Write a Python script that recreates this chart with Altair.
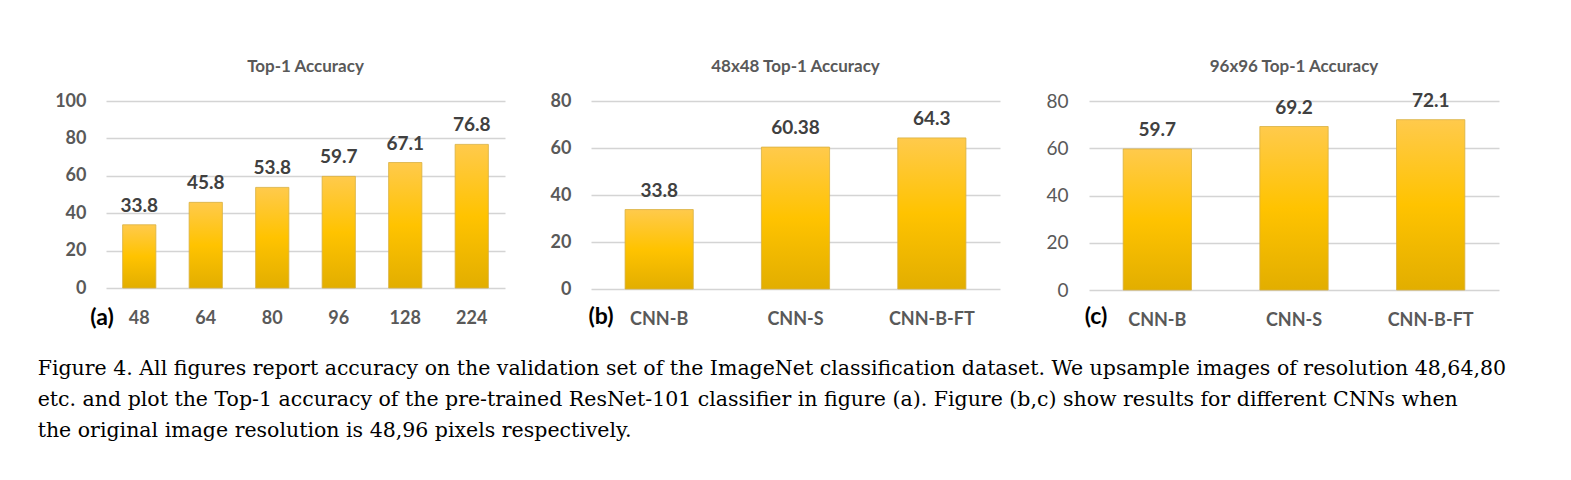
import altair as alt
import pandas as pd

# ---- data ----
res_labels = ["48", "64", "80", "96", "128", "224"]
res_acc = [33.8, 45.8, 53.8, 59.7, 67.1, 76.8]

cnn_labels = ["CNN-B", "CNN-S", "CNN-B-FT"]
acc_48 = [33.8, 60.38, 64.3]
acc_96 = [59.7, 69.2, 72.1]

value_text_a = ["33.8", "45.8", "53.8", "59.7", "67.1", "76.8"]
value_text_b = ["33.8", "60.38", "64.3"]
value_text_c = ["59.7", "69.2", "72.1"]

titles = ["Top-1 Accuracy", "48x48 Top-1 Accuracy", "96x96 Top-1 Accuracy"]
tags = ["(a)", "(b)", "(c)"]

caption = [
    "Figure 4. All figures report accuracy on the validation set of the ImageNet classification dataset. We upsample images of resolution 48,64,80",
    "etc. and plot the Top-1 accuracy of the pre-trained ResNet-101 classifier in figure (a). Figure (b,c) show results for different CNNs when",
    "the original image resolution is 48,96 pixels respectively.",
]

FONT = "Lato"
GRAY = "#595959"

bar_fill = alt.Gradient(
    gradient="linear",
    x1=0, y1=0, x2=0, y2=1,
    stops=[
        alt.GradientStop(color="#FFCA4C", offset=0),
        alt.GradientStop(color="#FFC300", offset=0.5),
        alt.GradientStop(color="#E2AE00", offset=1),
    ],
)


def panel(cats, vals, texts, title, tag, ymax, w, h, tick_bold, lab_pad, tag_dx, tag_dy, title_off):
    df = pd.DataFrame({"cat": cats, "val": vals, "txt": texts})
    x = alt.X(
        "cat:N", sort=cats, title=None,
        scale=alt.Scale(paddingInner=0.5, paddingOuter=0.25),
        axis=alt.Axis(labelAngle=0, ticks=False, domain=False, labelPadding=21,
                      labelFont=FONT, labelFontSize=18, labelFontWeight="bold",
                      labelColor=GRAY, grid=False),
    )
    y = alt.Y(
        "val:Q", title=None,
        scale=alt.Scale(domain=[0, ymax], nice=False),
        axis=alt.Axis(values=list(range(0, ymax + 1, 20)), ticks=False, domain=False,
                      labelPadding=lab_pad, labelFont=FONT, labelFontSize=18 if tick_bold else 19,
                      labelFontWeight="bold" if tick_bold else "normal",
                      labelColor=GRAY, gridColor="#d4d4d4", gridWidth=1.5),
    )
    base = alt.Chart(df)
    bars = base.mark_bar(fill=bar_fill, stroke="#d8b040", strokeWidth=0.8).encode(x=x, y=y)
    labels = base.mark_text(font=FONT, fontSize=19, fontWeight="bold", color="#404040",
                            baseline="alphabetic", dy=-13).encode(x=x, y=y, text="txt:N")
    tagdf = pd.DataFrame({"t": [tag]})
    tagmark = alt.Chart(tagdf).mark_text(font=FONT, fontSize=23, fontWeight="bold", color="#000000",
                                         baseline="middle", align="center").encode(
        text="t:N", x=alt.value(tag_dx), y=alt.value(tag_dy))
    return alt.layer(bars, labels, tagmark).properties(
        width=w, height=h,
        title=alt.TitleParams(title, font=FONT, fontSize=17, fontWeight="bold", color=GRAY,
                              anchor="middle", offset=title_off),
    )


pa = panel(res_labels, res_acc, value_text_a, titles[0], tags[0], 100, 399, 187, True, 20, -4, 216.7, 16)
pb = panel(cnn_labels, acc_48, value_text_b, titles[1], tags[1], 80, 409, 188, True, 20, 10, 215.5, 16)
pc = panel(cnn_labels, acc_96, value_text_c, titles[2], tags[2], 80, 410, 189, False, 21, 7, 215.5, 16)

chart = alt.hconcat(pa, pb, pc, spacing=45).properties(
    padding={"left": 29, "top": 49, "right": 5, "bottom": 5},
    title=alt.TitleParams(caption, orient="bottom", anchor="start", font="DejaVu Serif",
                          fontSize=20.5, fontWeight="normal", color="#000000", lineHeight=31,
                          offset=29, dx=-17),
).configure_view(stroke=None).configure_concat(spacing=45)

chart.save("out.html", embed_options={"renderer": "svg", "actions": False})
